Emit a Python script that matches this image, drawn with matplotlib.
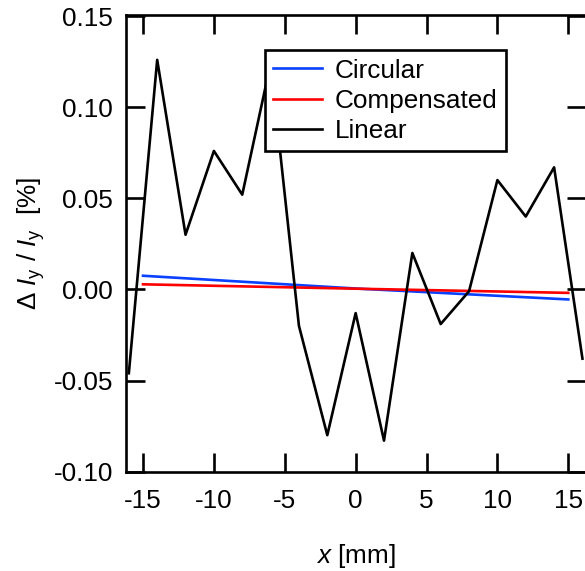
import numpy as np
import matplotlib.pyplot as plt

plt.rcParams['font.family'] = ['Liberation Sans', 'DejaVu Sans']
plt.rcParams['font.size'] = 18.8
plt.rcParams['mathtext.fontset'] = 'custom'
plt.rcParams['mathtext.rm'] = 'Liberation Sans'
plt.rcParams['mathtext.it'] = 'Liberation Sans:italic'

# position scan [mm] and relative intensity change [%]
xFit = [-15, 0, 15]
circular = [0.0075, 0.0005, -0.0055]
compensated = [0.0028, 0.0004, -0.0019]

xScan = [-16, -14, -12, -10, -8, -6, -4, -2, 0, 2, 4, 6, 8, 10, 12, 14, 16]
linear = [-0.046, 0.126, 0.030, 0.076, 0.052, 0.124, -0.020, -0.080, -0.013,
          -0.083, 0.020, -0.019, -0.001, 0.060, 0.040, 0.067, -0.038]

xTicks = [-15, -10, -5, 0, 5, 10, 15]
yTicks = [-0.10, -0.05, 0.00, 0.05, 0.10, 0.15]

fig = plt.figure(figsize=(5.85, 5.71), dpi=100)
ax = fig.add_axes([0.2154, 0.1734, 0.7863, 0.8003])

ax.plot(xFit, circular, color='#0a40ff', lw=1.9, label='Circular')
ax.plot(xFit, compensated, color='#ff0000', lw=1.9, label='Compensated')
ax.plot(xScan, linear, color='black', lw=1.9, label='Linear')

ax.set_xlim(-16.2, 16.25)
ax.set_ylim(-0.1002, 0.1506)
ax.set_xticks(xTicks)
ax.set_xticklabels([str(t) for t in xTicks])
ax.set_yticks(yTicks)
ax.set_yticklabels(['%.2f' % t for t in yTicks])

for s in ax.spines.values():
    s.set_linewidth(1.9)
ax.tick_params(direction='in', length=13.5, width=1.9, pad=9.4,
               top=True, right=True)
ax.tick_params(axis='x', pad=12)

ax.set_xlabel(r'$x$ [mm]', labelpad=21)
ax.set_ylabel(r'Δ $I_\mathregular{y}$ / $I_\mathregular{y}$  [%]', labelpad=4.5)

leg = ax.legend(loc='upper left', bbox_to_anchor=(0.302, 0.923), frameon=True,
                fancybox=False, edgecolor='black', framealpha=1,
                handlelength=1.85, handletextpad=0.5, labelspacing=0.24,
                borderpad=0.32, borderaxespad=0)
leg.get_frame().set_linewidth(1.9)

fig.savefig('out.png', dpi=100)
